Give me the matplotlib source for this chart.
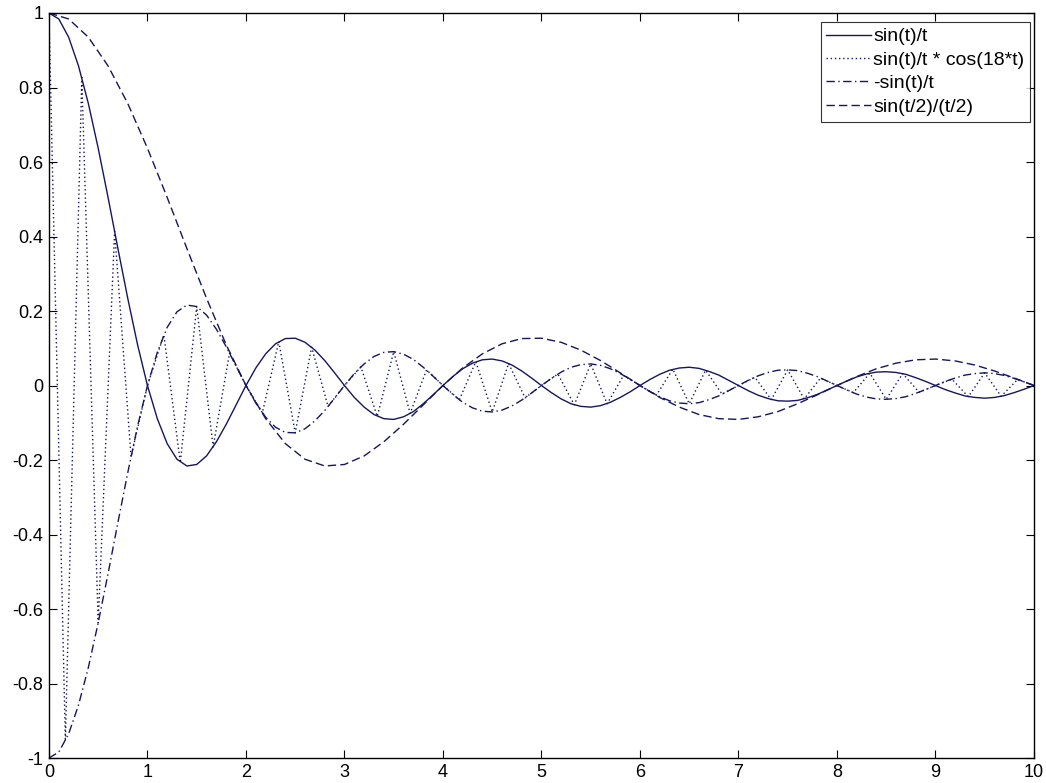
import numpy as np
import matplotlib
matplotlib.use('Agg')
import matplotlib.pyplot as plt

plt.rcParams['font.family'] = ['Liberation Sans', 'DejaVu Sans']

# values, x = 0, 0.1, ..., 10
x = np.linspace(0, 10, 101)
sinc = [1.000, 0.984, 0.935, 0.858, 0.757, 0.637, 0.505, 0.368, 0.234, 0.109,
        0.000, -0.089, -0.156, -0.198, -0.216, -0.212, -0.189, -0.151, -0.104, -0.052,
        0.000, 0.047, 0.085, 0.112, 0.126, 0.127, 0.116, 0.095, 0.067, 0.034,
        0.000, -0.032, -0.058, -0.078, -0.089, -0.091, -0.084, -0.070, -0.049, -0.025,
        0.000, 0.024, 0.045, 0.060, 0.069, 0.071, 0.066, 0.055, 0.039, 0.020,
        0.000, -0.019, -0.036, -0.049, -0.056, -0.058, -0.054, -0.045, -0.032, -0.017,
        0.000, 0.016, 0.030, 0.041, 0.047, 0.049, 0.046, 0.038, 0.028, 0.014,
        0.000, -0.014, -0.026, -0.035, -0.041, -0.042, -0.040, -0.033, -0.024, -0.012,
        0.000, 0.012, 0.023, 0.031, 0.036, 0.037, 0.035, 0.030, 0.021, 0.011,
        0.000, -0.011, -0.020, -0.028, -0.032, -0.034, -0.032, -0.027, -0.019, -0.010,
        0.000]
neg_sinc = [-1.000, -0.984, -0.935, -0.858, -0.757, -0.637, -0.505, -0.368, -0.234, -0.109,
            0.000, 0.089, 0.156, 0.198, 0.216, 0.212, 0.189, 0.151, 0.104, 0.052,
            0.000, -0.047, -0.085, -0.112, -0.126, -0.127, -0.116, -0.095, -0.067, -0.034,
            0.000, 0.032, 0.058, 0.078, 0.089, 0.091, 0.084, 0.070, 0.049, 0.025,
            0.000, -0.024, -0.045, -0.060, -0.069, -0.071, -0.066, -0.055, -0.039, -0.020,
            0.000, 0.019, 0.036, 0.049, 0.056, 0.058, 0.054, 0.045, 0.032, 0.017,
            0.000, -0.016, -0.030, -0.041, -0.047, -0.049, -0.046, -0.038, -0.028, -0.014,
            0.000, 0.014, 0.026, 0.035, 0.041, 0.042, 0.040, 0.033, 0.024, 0.012,
            0.000, -0.012, -0.023, -0.031, -0.036, -0.037, -0.035, -0.030, -0.021, -0.011,
            0.000, 0.011, 0.020, 0.028, 0.032, 0.034, 0.032, 0.027, 0.019, 0.010,
            0.000]

# dotted curve: zigzag vertices every 1/6
x_dot = np.linspace(0, 10, 61)
sinc_cos = [1.000, -0.955, 0.827, -0.637, 0.414, -0.191,
            0.000, 0.136, -0.207, 0.212, -0.165, 0.087,
            0.000, -0.073, 0.118, -0.127, 0.103, -0.056,
            0.000, 0.050, -0.083, 0.091, -0.075, 0.042,
            0.000, -0.038, 0.064, -0.071, 0.059, -0.033,
            0.000, 0.031, -0.052, 0.058, -0.049, 0.027,
            0.000, -0.026, 0.044, -0.049, 0.041, -0.023,
            0.000, 0.022, -0.038, 0.042, -0.036, 0.020,
            0.000, -0.019, 0.033, -0.037, 0.032, -0.018,
            0.000, 0.017, -0.030, 0.034, -0.029, 0.016,
            0.000]

# dashed curve, x = 0, 0.2, ..., 10
x_half = np.linspace(0, 10, 51)
sinc_half = [1.000, 0.984, 0.935, 0.858, 0.757, 0.637, 0.505, 0.368, 0.234, 0.109,
             0.000, -0.089, -0.156, -0.198, -0.216, -0.212, -0.189, -0.151, -0.104, -0.052,
             0.000, 0.047, 0.085, 0.112, 0.126, 0.127, 0.116, 0.095, 0.067, 0.034,
             0.000, -0.032, -0.058, -0.078, -0.089, -0.091, -0.084, -0.070, -0.049, -0.025,
             0.000, 0.024, 0.045, 0.060, 0.069, 0.071, 0.066, 0.055, 0.039, 0.020,
             0.000]

labels = ['sin(t)/t', 'sin(t)/t * cos(18*t)', '-sin(t)/t', 'sin(t/2)/(t/2)']
col = '#16165e'

fig = plt.figure(figsize=(10.46, 7.83), dpi=100)
ax = fig.add_axes([0.0468, 0.0319, 0.9417, 0.9515])

ax.plot(x, sinc, color=col, lw=1.0, label=labels[0])
ax.plot(x_dot, sinc_cos, color=col, lw=1.0, ls=(0, (1, 2)), label=labels[1])
ax.plot(x, neg_sinc, color=col, lw=1.0, ls=(0, (6, 2.5, 1, 2.5)), label=labels[2])
ax.plot(x_half, sinc_half, color=col, lw=1.0, ls=(0, (6, 3)), label=labels[3])

ax.set_xlim(0, 10)
ax.set_ylim(-1, 1)
ax.set_xticks(range(0, 11))
ax.set_yticks([-1, -0.8, -0.6, -0.4, -0.2, 0, 0.2, 0.4, 0.6, 0.8, 1])
ax.set_yticklabels(['-1', '-0.8', '-0.6', '-0.4', '-0.2', '0', '0.2', '0.4', '0.6', '0.8', '1'])
ax.tick_params(direction='in', top=True, right=True, length=6, width=0.8,
               labelsize=13, pad=4)
for s in ax.spines.values():
    s.set_linewidth(1.0)

leg = ax.legend(loc='upper right', bbox_to_anchor=(0.996, 0.988), borderaxespad=0,
                fontsize=14, frameon=True, fancybox=False, handlelength=2.3,
                handletextpad=0.1, labelspacing=0.3, borderpad=0.3)
leg.get_frame().set_edgecolor('black')
leg.get_frame().set_linewidth(0.8)

plt.savefig('out.png', dpi=100)
